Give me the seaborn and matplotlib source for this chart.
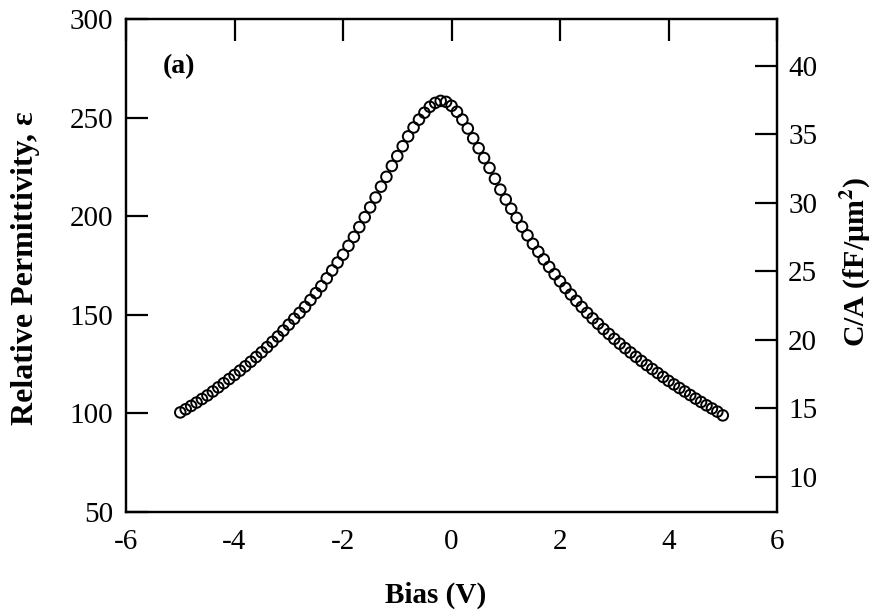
import numpy as np
import pandas as pd
import matplotlib
matplotlib.use('Agg')
import matplotlib.pyplot as plt
import seaborn as sns

# --- data (bias in V, relative permittivity) ---
bias = [round(-5.0 + 0.1 * i, 1) for i in range(101)]

permittivity = [
    100.5, 102.1, 103.8, 105.5, 107.3, 109.1, 111.1, 113.2, 115.3, 117.4,   # -5.0 .. -4.1
    119.5, 121.7, 123.9, 126.2, 128.6, 131.0, 133.6, 136.3, 139.0, 142.0,   # -4.0 .. -3.1
    145.0, 148.0, 151.0, 154.0, 157.5, 161.0, 164.5, 168.5, 172.5, 176.5,   # -3.0 .. -2.1
    180.5, 185.0, 189.5, 194.5, 199.5, 204.5, 209.5, 215.0, 220.0, 225.5,   # -2.0 .. -1.1
    230.5, 235.5, 240.5, 245.0, 249.0, 252.5, 255.5, 257.5, 258.5, 258.0,   # -1.0 .. -0.1
    256.0, 253.0, 249.0, 244.5, 239.5, 234.5, 229.5, 224.5, 219.0, 213.5,   #  0.0 ..  0.9
    208.5, 203.8, 199.2, 194.7, 190.3, 186.0, 182.0, 178.1, 174.3, 170.6,   #  1.0 ..  1.9
    167.0, 163.6, 160.3, 157.1, 154.0, 151.0, 148.2, 145.5, 142.8, 140.3,   #  2.0 ..  2.9
    137.8, 135.4, 133.1, 130.9, 128.7, 126.6, 124.5, 122.5, 120.5, 118.5,   #  3.0 ..  3.9
    116.5, 114.7, 112.9, 111.1, 109.3, 107.5, 105.8, 104.1, 102.5, 100.9,   #  4.0 ..  4.9
    99.0,                                                                  #  5.0
]

x_ticks = [-6, -4, -2, 0, 2, 4, 6]
left_ticks = [50, 100, 150, 200, 250, 300]
right_ticks = [10, 15, 20, 25, 30, 35, 40]

df = pd.DataFrame({'bias': bias, 'eps': permittivity})

sns.set_style('white', {'text.color': 'black', 'axes.labelcolor': 'black',
                        'xtick.color': 'black', 'ytick.color': 'black'})
plt.rcParams['font.family'] = ['Liberation Serif', 'DejaVu Serif']
plt.rcParams['mathtext.fontset'] = 'stix'

fig = plt.figure(figsize=(8.77, 6.15), dpi=100)
ax = fig.add_axes([0.1437, 0.1675, 0.7423, 0.8015])

sns.scatterplot(data=df, x='bias', y='eps', ax=ax, marker='o', s=58,
                facecolors='none', edgecolor='black', linewidth=1.4, legend=False)

ax.set_xlim(-6, 6)
ax.set_ylim(50, 300)
ax.set_xticks(x_ticks)
ax.set_xticklabels([str(t) for t in x_ticks])
ax.set_yticks(left_ticks)
ax.tick_params(axis='both', direction='in', length=16, width=1.6,
               labelsize=21, top=True, right=False, colors='black')
ax.tick_params(axis='x', pad=12)
ax.tick_params(axis='y', pad=9)
for sp in ax.spines.values():
    sp.set_linewidth(1.6)
    sp.set_color('black')

ax.set_xlabel('Bias (V)', fontsize=21, fontweight='bold')
ax.xaxis.set_label_coords(0.475, -0.142)
ax.set_ylabel('Relative Permittivity, ε', fontsize=23, fontweight='bold')
ax.yaxis.set_label_coords(-0.132, 0.495)
ax.text(-5.32, 276, '(a)', fontsize=20, fontweight='bold', va='center', ha='left')

# right axis: capacitance density
ax2 = ax.twinx()
ax2.set_ylim(7.42, 43.41)
ax2.set_yticks(right_ticks)
ax2.tick_params(axis='y', direction='in', length=16, width=1.6, labelsize=21, pad=8,
                colors='black')
ax2.set_ylabel('C/A (fF/μm$^{\\mathbf{2}}$)', fontsize=21.5, fontweight='bold')
ax2.yaxis.set_label_coords(1.095, 0.507)
for sp in ax2.spines.values():
    sp.set_linewidth(1.6)
    sp.set_color('black')

fig.savefig('out.png', dpi=100)
